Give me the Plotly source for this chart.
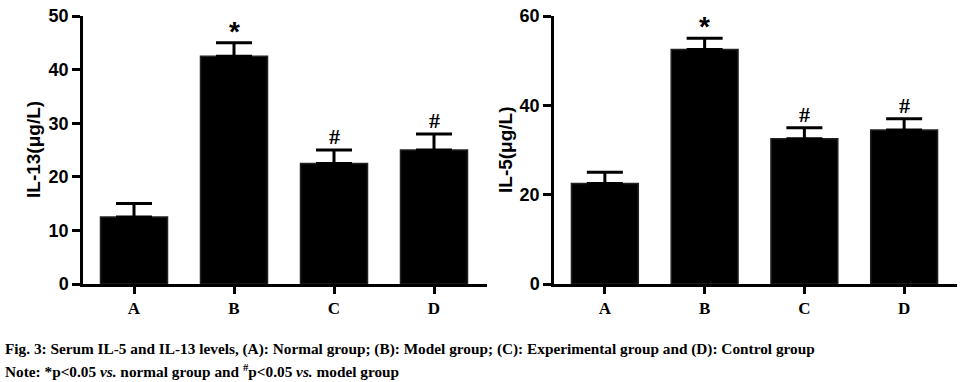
import plotly.graph_objects as go

categories = ["A", "B", "C", "D"]
il13_mean = [12.5, 42.5, 22.5, 25.0]
il13_upper = [15.0, 45.0, 25.0, 28.0]
il13_marks = ["", "*", "#", "#"]
il5_mean = [22.5, 52.5, 32.5, 34.5]
il5_upper = [25.0, 55.0, 35.0, 37.0]
il5_marks = ["", "*", "#", "#"]
il13_ticks = [0, 10, 20, 30, 40, 50]
il5_ticks = [0, 20, 40, 60]

W, H = 963, 382
T, B = 16, 98
PH = H - T - B

SANS = "Liberation Sans, Arial"
SERIF = "Liberation Serif, Times New Roman"

fig = go.Figure()

def add_panel(means, uppers, marks, xa, ya):
    err = [u - m for u, m in zip(uppers, means)]
    fig.add_trace(go.Bar(
        x=list(range(len(categories))), y=means, xaxis=xa, yaxis=ya,
        width=0.67, marker=dict(color="black", line=dict(color="#222", width=1.5)),
        error_y=dict(type="data", array=err, arrayminus=[0]*len(err), symmetric=False,
                     color="black", thickness=3, width=18),
        showlegend=False, hoverinfo="skip"))
    for i, (u, mk) in enumerate(zip(uppers, marks)):
        if not mk:
            continue
        fig.add_annotation(
            x=i, y=u, xref=xa, yref=ya, text=f"<b>{mk}</b>", showarrow=False,
            yanchor="bottom", yshift=-6 if mk == "*" else -1,
            font=dict(family=SANS if mk == "*" else SERIF, size=28 if mk == "*" else 22, color="black"))

add_panel(il13_mean, il13_upper, il13_marks, "x", "y")
add_panel(il5_mean, il5_upper, il5_marks, "x2", "y2")

xcommon = dict(
    range=[-0.51, 3.53], tickmode="array", tickvals=list(range(4)), ticktext=[f"<b>{c}</b>" for c in categories],
    showline=True, linecolor="black", linewidth=2.5, ticks="outside", ticklen=7, tickwidth=2.5,
    tickcolor="black", showgrid=False, zeroline=False,
    tickfont=dict(family=SERIF, size=17, color="black"))
ycommon = dict(
    showline=True, linecolor="black", linewidth=2.5, ticks="outside", ticklen=8, tickwidth=2.5,
    tickcolor="black", showgrid=False, zeroline=False,
    tickfont=dict(family=SANS, size=18, color="black"))

fig.update_layout(
    width=W, height=H, margin=dict(l=0, r=0, t=T, b=B),
    paper_bgcolor="white", plot_bgcolor="white",
    xaxis=dict(domain=[83/W, 487/W], anchor="y", **xcommon),
    yaxis=dict(domain=[0, 1], anchor="x", range=[0, 50], tickvals=il13_ticks,
               ticktext=[f"<b>{t}</b>" for t in il13_ticks], **ycommon),
    xaxis2=dict(domain=[554/W, 957/W], anchor="y2", **xcommon),
    yaxis2=dict(domain=[0, 1], anchor="x2", range=[0, 60], tickvals=il5_ticks,
                ticktext=[f"<b>{t}</b>" for t in il5_ticks], **ycommon),
    bargap=0.33,
)

# y-axis titles
for xpx, txt in [(33, "IL-13(μg/L)"), (505, "IL-5(μg/L)")]:
    fig.add_annotation(x=xpx/W, y=0.5, xref="paper", yref="paper", text=f"<b>{txt}</b>",
                       textangle=-90, showarrow=False, xanchor="center", yanchor="middle",
                       font=dict(family=SANS, size=19, color="black"))

# caption
cap1 = "<b>Fig. 3: Serum IL-5 and IL-13 levels, (A): Normal group; (B): Model group; (C): Experimental group and (D): Control group</b>"
cap2 = "<b>Note: *p&lt;0.05 <i>vs.</i> normal group and <sup>#</sup>p&lt;0.05 <i>vs.</i> model group</b>"
for ypx, txt in [(349, cap1), (370, cap2)]:
    fig.add_annotation(x=3/W, y=(T + PH - ypx)/PH, xref="paper", yref="paper", text=txt,
                       showarrow=False, xanchor="left", yanchor="middle", align="left",
                       font=dict(family=SERIF, size=15.3, color="black"))

fig.write_html("out.html", config={"displayModeBar": False},
               post_script="document.body.style.margin='0px';document.body.style.padding='0px';document.body.style.overflow='hidden';")
